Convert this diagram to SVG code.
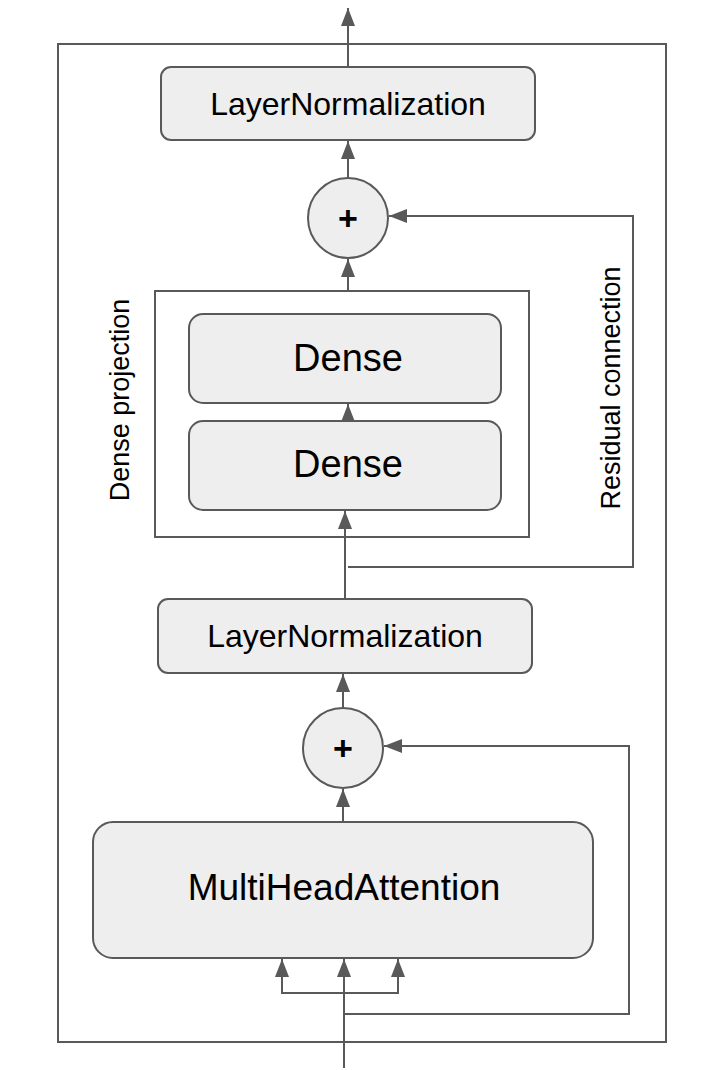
<svg xmlns="http://www.w3.org/2000/svg" width="714" height="1070" viewBox="0 0 714 1070">
<defs>
<marker id="ah" markerUnits="userSpaceOnUse" markerWidth="18" markerHeight="14" viewBox="0 0 18 14" refX="18" refY="7" orient="auto-start-reverse">
<path d="M0,0 L18,7 L0,14 Z" fill="#595959"/>
</marker>
</defs>
<style>
.box{fill:#eeeeee;stroke:#595959;stroke-width:2}
.frame{fill:none;stroke:#595959;stroke-width:2}
.c{fill:none;stroke:#595959;stroke-width:2}
.t{font-family:"Liberation Sans",Arial,sans-serif;fill:#000;text-anchor:middle;dominant-baseline:central}
</style>
<rect class="frame" x="58" y="44" width="608" height="998"/>
<g id="connectors">
<line class="c" x1="348" y1="66" x2="348" y2="8" marker-end="url(#ah)"/>
<line class="c" x1="348" y1="178" x2="348" y2="141" marker-end="url(#ah)"/>
<line class="c" x1="348" y1="291" x2="348" y2="259" marker-end="url(#ah)"/>
<line class="c" x1="348" y1="421" x2="348" y2="404" marker-end="url(#ah)"/>
<line class="c" x1="345" y1="598" x2="345" y2="511" marker-end="url(#ah)"/>
<polyline class="c" points="348,567 633,567 633,216 389,216" marker-end="url(#ah)"/>
<line class="c" x1="343" y1="708" x2="343" y2="674" marker-end="url(#ah)"/>
<line class="c" x1="343" y1="822" x2="343" y2="789" marker-end="url(#ah)"/>
<polyline class="c" points="344,1014 629,1014 629,746 384,746" marker-end="url(#ah)"/>
<line class="c" x1="344" y1="1068" x2="344" y2="959" marker-end="url(#ah)"/>
<polyline class="c" points="282,959 282,993 398,993 398,959" marker-start="url(#ah)" marker-end="url(#ah)"/>
</g>
<g id="ln_top">
<rect class="box" x="161" y="67" width="374" height="73" rx="10"/>
<text class="t" x="348" y="104" font-size="32">LayerNormalization</text>
</g>
<g id="add_top">
<circle class="box" cx="348" cy="218" r="40"/>
<text class="t" x="348" y="218" font-size="34" font-weight="bold">+</text>
</g>
<g id="dense_projection">
<rect class="frame" x="155" y="291" width="374" height="246"/>
<text class="t" x="120" y="400" font-size="27" transform="rotate(-90 120 400)">Dense projection</text>
</g>
<g id="dense1">
<rect class="box" x="189" y="314" width="312" height="89" rx="14"/>
<text class="t" x="348" y="358" font-size="38">Dense</text>
</g>
<g id="dense2">
<rect class="box" x="189" y="421" width="312" height="89" rx="14"/>
<text class="t" x="348" y="464" font-size="38">Dense</text>
</g>
<g id="residual_label">
<text class="t" x="611" y="388" font-size="27" transform="rotate(-90 611 388)">Residual connection</text>
</g>
<g id="ln_bottom">
<rect class="box" x="158" y="599" width="374" height="74" rx="10"/>
<text class="t" x="345" y="636" font-size="32">LayerNormalization</text>
</g>
<g id="add_bottom">
<circle class="box" cx="343" cy="748" r="40"/>
<text class="t" x="343" y="748" font-size="34" font-weight="bold">+</text>
</g>
<g id="mha">
<rect class="box" x="93" y="822" width="500" height="136" rx="20"/>
<text class="t" x="344" y="887" font-size="37">MultiHeadAttention</text>
</g>
</svg>
